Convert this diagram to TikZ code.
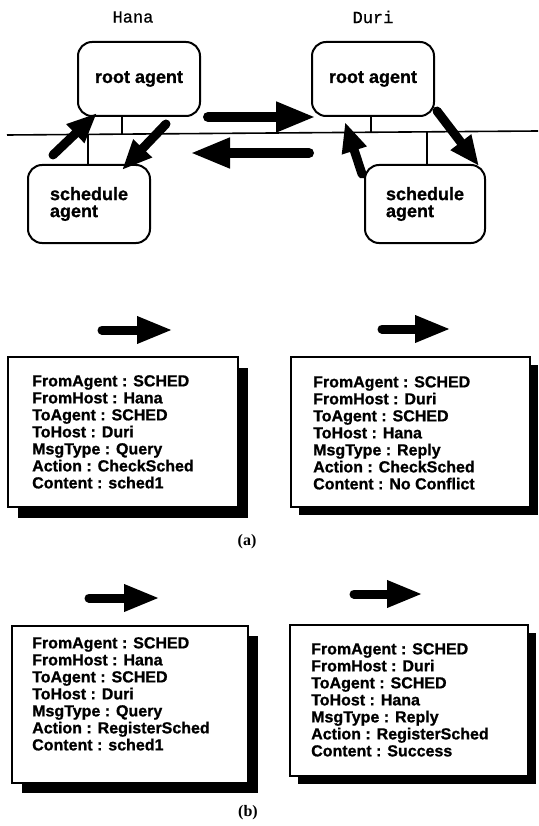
\documentclass[tikz,border=0pt]{standalone}
\usepackage{fontspec}
\setmainfont{Liberation Sans}
\newfontfamily\hostfont[FakeBold=0.6]{Liberation Mono}
\newfontfamily\capfont{Liberation Serif}
\newfontfamily\heavyfont[FakeBold=1]{Liberation Sans Bold}
\usetikzlibrary{arrows.meta}

\begin{document}
\begin{tikzpicture}[x=1pt,y=-1pt,
  agent/.style={draw, line width=2pt, rounded corners=14pt, minimum width=122pt, minimum height=74pt, align=left, font=\heavyfont\fontsize{18}{17}\selectfont},
  host/.style={font=\hostfont\fontsize{17}{17}\selectfont},
  bigarrow/.style={line width=10pt, line cap=round, -{Triangle[length=40pt,width=28pt]}},
  diagarrow/.style={line width=9pt, line cap=round, -{Triangle[length=30pt,width=24pt]}},
  msgarrow/.style={line width=9pt, line cap=round, -{Triangle[length=36pt,width=25pt]}},
  msgbox/.style={draw, line width=1.2pt, fill=white, anchor=north west, inner sep=0pt, outer sep=0pt},
  shadowbox/.style={fill=black, anchor=north west, inner sep=0pt, outer sep=0pt},
  msgtext/.style={anchor=north west, align=left, inner sep=0pt, font=\heavyfont\fontsize{16}{17}\selectfont},
  caption/.style={font=\capfont\bfseries\fontsize{16}{16}\selectfont}
]
\useasboundingbox[fill=white] (0,0) rectangle (538,826);

% hosts
\node[host] (hana) at (133,17) {Hana};
\node[host] (duri) at (373,17) {Duri};

% agents
\node[agent] (hroot) at (139,79) {root agent};
\node[agent] (droot) at (373,79) {root agent};
\node[agent, minimum height=78pt] (hsched) at (89,204) {schedule\\agent};
\node[agent, minimum height=78pt, minimum width=120pt] (dsched) at (425,204) {schedule\\agent};

% network line
\coordinate (busL) at (7,135);
\coordinate (busR) at (538,131);
\draw[line width=1.6pt] (busL) -- (busR);

% ticks
\coordinate (tk1) at (122,134.1);
\coordinate (tk2) at (88,134.4);
\coordinate (tk3) at (371,132.3);
\coordinate (tk4) at (427,131.8);
\draw[line width=1.2pt] (tk1 |- hroot.south) -- (tk1);
\draw[line width=1.2pt] (tk2) -- (tk2 |- hsched.north);
\draw[line width=1.2pt] (tk3 |- droot.south) -- (tk3);
\draw[line width=1.2pt] (tk4) -- (tk4 |- dsched.north);

% big arrows
\coordinate (r1s) at (208,117); \coordinate (r1e) at (316,117);
\coordinate (l1s) at (309,153); \coordinate (l1e) at (190,153);
\coordinate (hus) at (53,155);  \coordinate (hue) at (97,113);
\coordinate (hds) at (166,124); \coordinate (hde) at (122,170);
\coordinate (dus) at (362,174); \coordinate (due) at (345,122);
\coordinate (dds) at (437,111); \coordinate (dde) at (479,166);
\draw[bigarrow] (r1s) -- (r1e);
\draw[bigarrow] (l1s) -- (l1e);
\draw[diagarrow] (hus) -- (hue);
\draw[diagarrow] (hds) -- (hde);
\draw[diagarrow] (dus) -- (due);
\draw[diagarrow] (dds) -- (dde);

% message arrows
\coordinate (m1s) at (102,330); \coordinate (m1e) at (173,330);
\coordinate (m2s) at (382,329); \coordinate (m2e) at (451,329);
\coordinate (m3s) at (89,598);  \coordinate (m3e) at (160,598);
\coordinate (m4s) at (354,594); \coordinate (m4e) at (423,594);
\draw[msgarrow] (m1s) -- (m1e);
\draw[msgarrow] (m2s) -- (m2e);
\draw[msgarrow] (m3s) -- (m3e);
\draw[msgarrow] (m4s) -- (m4e);

% message boxes (a)
\node[shadowbox, minimum width=230pt, minimum height=150pt] (a1s) at (18,368) {};
\node[msgbox, minimum width=230pt, minimum height=150pt] (a1) at (8,357) {};
\node[msgtext] (a1t) at (32,375) {FromAgent : SCHED\\FromHost : Hana\\ToAgent : SCHED\\ToHost : Duri\\MsgType : Query\\Action : CheckSched\\Content : sched1};

\node[shadowbox, minimum width=239pt, minimum height=150pt] (a2s) at (299,365) {};
\node[msgbox, minimum width=239pt, minimum height=150pt] (a2) at (291,357) {};
\node[msgtext] (a2t) at (313,376) {FromAgent : SCHED\\FromHost : Duri\\ToAgent : SCHED\\ToHost : Hana\\MsgType : Reply\\Action : CheckSched\\Content : No Conflict};

\node[caption] (capa) at (247,542) {(a)};

% message boxes (b)
\node[shadowbox, minimum width=236pt, minimum height=157pt] (b1s) at (22,636) {};
\node[msgbox, minimum width=236pt, minimum height=157pt] (b1) at (12,626) {};
\node[msgtext] (b1t) at (32,637) {FromAgent : SCHED\\FromHost : Hana\\ToAgent : SCHED\\ToHost : Duri\\MsgType : Query\\Action : RegisterSched\\Content : sched1};

\node[shadowbox, minimum width=238pt, minimum height=151pt] (b2s) at (298,633) {};
\node[msgbox, minimum width=238pt, minimum height=151pt] (b2) at (290,625) {};
\node[msgtext] (b2t) at (311,643) {FromAgent : SCHED\\FromHost : Duri\\ToAgent : SCHED\\ToHost : Hana\\MsgType : Reply\\Action : RegisterSched\\Content : Success};

\node[caption] (capb) at (248,813) {(b)};
\end{tikzpicture}
\end{document}
